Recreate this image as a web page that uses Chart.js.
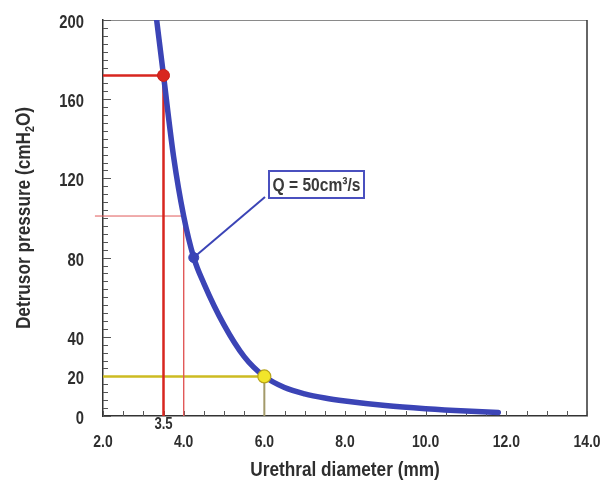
<!DOCTYPE html>
<html>
<head>
<meta charset="utf-8">
<script src="https://cdn.jsdelivr.net/npm/chart.js@4"></script>
<style>
html,body{margin:0;padding:0;background:#fff;}
canvas{display:block;}
</style>
</head>
<body>
<canvas id="c" width="601" height="480"></canvas>
<script>
// ---- data ----
const diameter = [3.33, 3.5, 3.75, 4.0, 4.25, 4.5, 5.0, 5.5, 6.0, 6.5, 7.0, 7.5, 8.0, 9.0, 10.0, 11.0, 11.8];
const pressure = [200, 172, 131, 101, 80, 67, 46, 30, 20, 14.4, 11.2, 9.1, 7.6, 5.3, 3.7, 2.5, 1.8];
const markD = [3.5, 4.25, 6.0];
const markP = [172, 80, 20];
const markColors = ['#d8261f', '#3b44b6', '#f2e52a'];
const guideD = [3.5, 4.0, 6.0];
const guideP = [172, 101, 20];
const xTickLabels = [2, 4, 6, 8, 10, 12, 14];
const yTickLabels = [0, 20, 40, 80, 120, 160, 200];
const noteText = 'Q = 50cm³/s';
const xTitle = 'Urethral diameter (mm)';
const yTitleParts = ['Detrusor pressure (cmH', '2', 'O)'];

const FONT = "'Liberation Sans', Arial, sans-serif";
const NARROW = 0.82;
const TXT = '#2e2e2e';

const curve = diameter.map((d, i) => ({x: d, y: pressure[i]}));

const datasets = [
  { data: markD.map((d,i)=>({x:d,y:markP[i]})), showLine:false,
    pointRadius:[6,5,6.5], pointBackgroundColor: markColors,
    pointBorderColor:['#c81e18','#3b44b6','#b8a41a'], pointBorderWidth:[1,1,1.2], order:0 },
  { data: curve, showLine:true, borderColor:'#3b44b6', borderWidth:5.5, pointRadius:0,
    cubicInterpolationMode:'monotone', borderCapStyle:'round', order:1 },
  { data:[{x:2,y:guideP[0]},{x:guideD[0],y:guideP[0]},{x:guideD[0],y:0}], showLine:true,
    borderColor:'#d8261f', borderWidth:2.5, pointRadius:0, order:2 },
  { data:[{x:1.8,y:guideP[1]},{x:guideD[1],y:guideP[1]},{x:guideD[1],y:0}], showLine:true,
    borderColor:'#e05a5a', borderWidth:1, pointRadius:0, clip:false, order:2 },
  { data:[{x:2,y:guideP[2]},{x:guideD[2],y:guideP[2]}], showLine:true,
    borderColor:'#cdbb22', borderWidth:2.5, pointRadius:0, order:2 },
  { data:[{x:guideD[2],y:guideP[2]},{x:guideD[2],y:0}], showLine:true,
    borderColor:'#a39a6a', borderWidth:2, pointRadius:0, order:2 }
];

function narrowText(ctx, text, x, y, size, align, color) {
  ctx.save();
  ctx.font = 'bold ' + size + 'px ' + FONT;
  ctx.fillStyle = color || TXT;
  ctx.textAlign = align; ctx.textBaseline = 'alphabetic';
  ctx.translate(x, y); ctx.scale(NARROW, 1);
  ctx.fillText(text, 0, 0);
  ctx.restore();
}

const decor = {
  id:'decor',
  beforeDatasetsDraw(chart){
    const {ctx, chartArea:a, scales:{x,y}} = chart;
    ctx.save();
    ctx.strokeStyle = '#8a8a8a'; ctx.lineWidth = 1;
    ctx.beginPath(); ctx.moveTo(a.left, a.top+0.5); ctx.lineTo(a.right, a.top+0.5); ctx.stroke();
    ctx.strokeStyle = '#333'; ctx.lineWidth = 1.5;
    ctx.beginPath(); ctx.moveTo(a.right, a.top); ctx.lineTo(a.right, a.bottom); ctx.stroke();
    ctx.strokeStyle = '#555'; ctx.lineWidth = 1;
    for (let v = 0; v <= 200; v += 4) {
      const py = Math.round(y.getPixelForValue(v)) + 0.5;
      const len = yTickLabels.includes(v) ? 8 : 5;
      ctx.beginPath(); ctx.moveTo(a.left, py); ctx.lineTo(a.left+len, py); ctx.stroke();
    }
    for (let v = 2; v <= 14; v += 0.5) {
      const px = Math.round(x.getPixelForValue(v)) + 0.5;
      ctx.beginPath(); ctx.moveTo(px, a.bottom); ctx.lineTo(px, a.bottom-5); ctx.stroke();
    }
    ctx.restore();
  },
  afterDatasetsDraw(chart){
    const {ctx, chartArea:a, scales:{x,y}} = chart;
    yTickLabels.forEach(v => narrowText(ctx, String(v), 84, y.getPixelForValue(v) + 8, 18, 'right'));
    xTickLabels.forEach(v => narrowText(ctx, v.toFixed(1), x.getPixelForValue(v), 447, 17, 'center'));
    narrowText(ctx, '3.5', x.getPixelForValue(guideD[0]), 429, 16, 'center');
    narrowText(ctx, xTitle, (a.left + a.right) / 2, 476, 21, 'center');
    ctx.save();
    ctx.font = 'bold 21px ' + FONT;
    const w0 = ctx.measureText(yTitleParts[0]).width * NARROW;
    const w2 = ctx.measureText(yTitleParts[2]).width * NARROW;
    ctx.font = 'bold 13px ' + FONT;
    const w1 = ctx.measureText(yTitleParts[1]).width * NARROW;
    const total = w0 + w1 + w2;
    ctx.translate(30, (a.top + a.bottom) / 2);
    ctx.rotate(-Math.PI / 2);
    let sx = -total / 2;
    narrowText(ctx, yTitleParts[0], sx, 0, 21, 'left'); sx += w0;
    narrowText(ctx, yTitleParts[1], sx, 4, 13, 'left'); sx += w1;
    narrowText(ctx, yTitleParts[2], sx, 0, 21, 'left');
    ctx.restore();
    ctx.save();
    const bx = x.getPixelForValue(markD[1]), by = y.getPixelForValue(markP[1]);
    ctx.strokeStyle = '#3b44b6'; ctx.lineWidth = 2;
    ctx.beginPath(); ctx.moveTo(bx, by); ctx.lineTo(265, 197); ctx.stroke();
    ctx.fillStyle = '#fff';
    ctx.fillRect(269, 171, 95, 27);
    ctx.strokeStyle = '#4a50bf'; ctx.lineWidth = 2;
    ctx.strokeRect(269, 171, 95, 27);
    ctx.restore();
    narrowText(ctx, noteText, 316.5, 191, 19, 'center', '#3a3a3a');
  }
};

new Chart(document.getElementById('c'), {
  type:'scatter',
  data:{datasets},
  plugins:[decor],
  options:{
    responsive:false,
    animation:false,
    layout:{padding:{top:20, right:14, left:0, bottom:0}},
    plugins:{legend:{display:false}, tooltip:{enabled:false}},
    scales:{
      x:{
        type:'linear', min:2, max:14,
        afterFit(s){ s.height = 64; },
        grid:{display:false},
        border:{display:true, color:'#333', width:1.5},
        ticks:{display:false, stepSize:2}
      },
      y:{
        type:'linear', min:0, max:200,
        afterFit(s){ s.width = 103; },
        grid:{display:false},
        border:{display:true, color:'#333', width:1.5},
        ticks:{display:false, stepSize:20}
      }
    }
  }
});
</script>
</body>
</html>
